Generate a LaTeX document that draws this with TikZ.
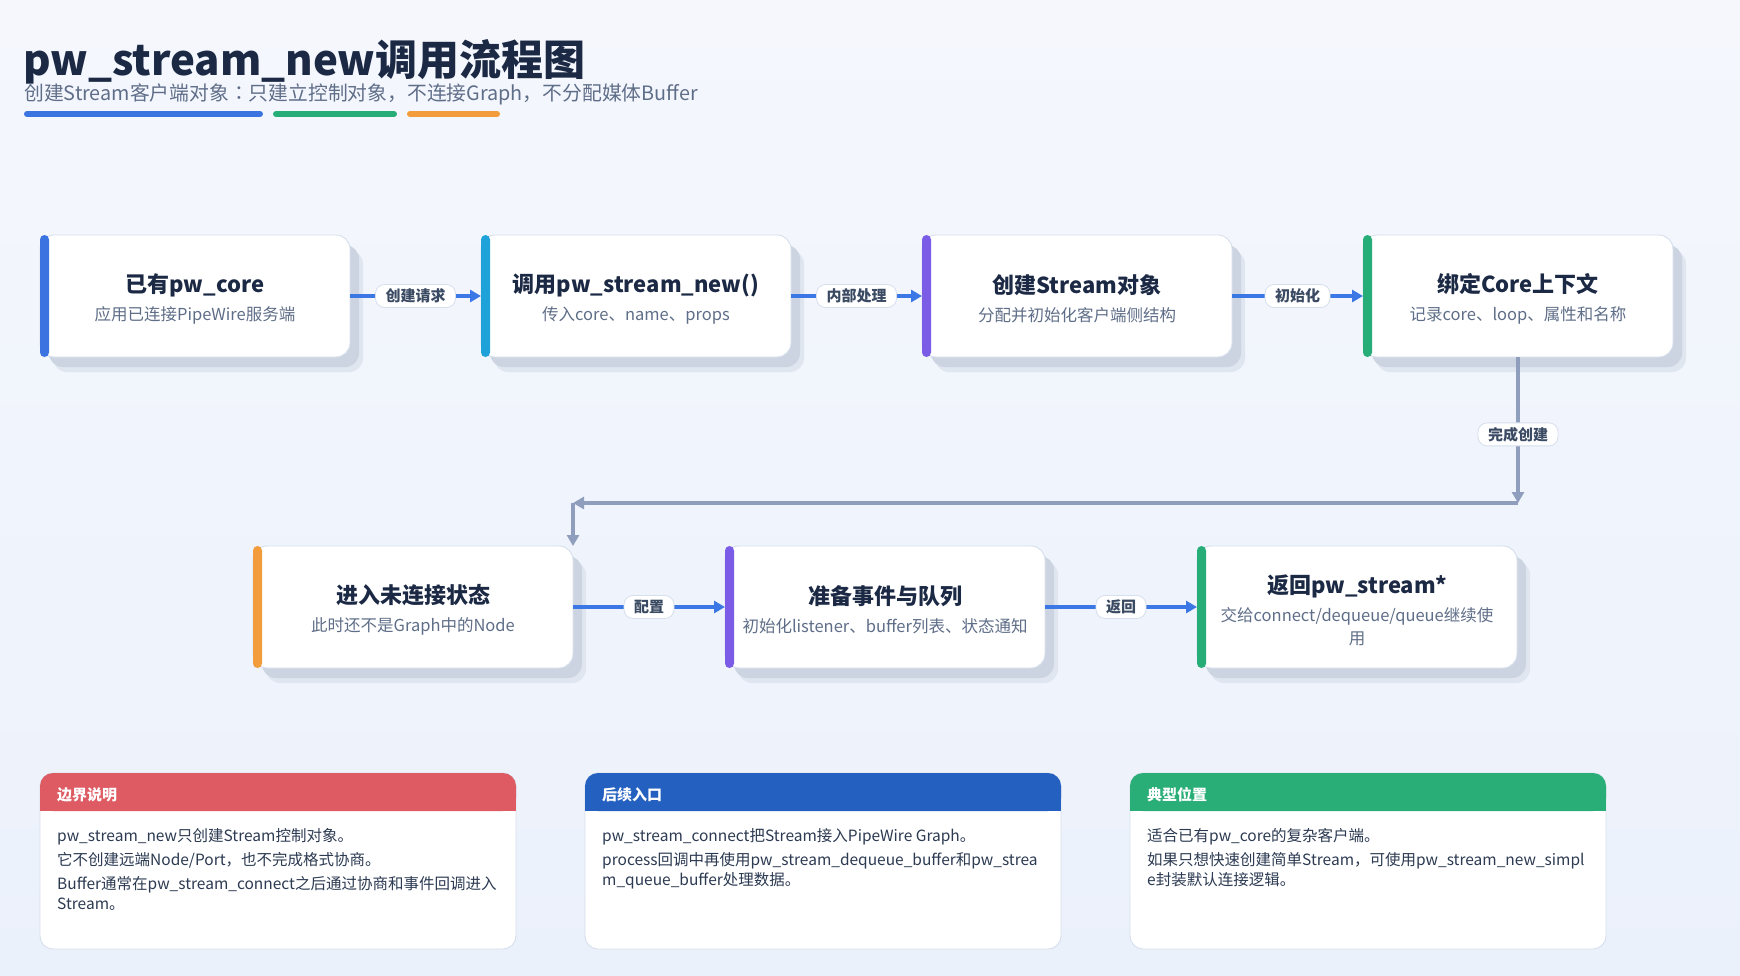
\documentclass[tikz,border=0pt]{standalone}
\usepackage{fontspec}
\setmainfont{Noto Sans CJK SC}
\newfontfamily\jpfont{Noto Sans CJK JP}
\usetikzlibrary{positioning}
\usetikzlibrary{arrows.meta}
\usetikzlibrary{shadows}

\definecolor{bgTop}{HTML}{F5F7FD}
\definecolor{bgBot}{HTML}{EBF1FB}
\definecolor{ink}{HTML}{1B2944}
\definecolor{muted}{HTML}{5F6E88}
\definecolor{tagInk}{HTML}{3B4A63}
\definecolor{bodyInk}{HTML}{2C3A52}
\definecolor{edge}{HTML}{D6DFEC}
\definecolor{shade}{HTML}{CCD4E1}
\definecolor{shadeSoft}{HTML}{E0E6F0}
\definecolor{flowBlue}{HTML}{3B78E6}
\definecolor{backGrey}{HTML}{8E9EBC}
\definecolor{accBlue}{HTML}{3B74E0}
\definecolor{accCyan}{HTML}{1FA2D9}
\definecolor{accPurple}{HTML}{7B5CE6}
\definecolor{accGreen}{HTML}{27AE78}
\definecolor{accOrange}{HTML}{F29C3B}
\definecolor{hdRed}{HTML}{DE5B63}
\definecolor{hdBlue}{HTML}{2460C0}
\definecolor{hdGreen}{HTML}{2AAE78}

\newcommand{\boxhead}[1]{{\fontsize{22}{26}\selectfont\bfseries\color{ink}\rule{0pt}{25pt}#1}}

\begin{document}
\begin{tikzpicture}[x=1pt, y=-1pt]
      \tikzstyle{flowbox} = [draw=edge, line width=0.9pt, fill=white, rounded corners=14pt, minimum width=310pt, minimum height=122pt, inner sep=0pt, outer sep=0pt, align=center, font=\fontsize{16.5}{23}\selectfont, text=muted, drop shadow={shadow xshift=13pt, shadow yshift=-15pt, fill=shadeSoft, opacity=1}, drop shadow={shadow xshift=9pt, shadow yshift=-10pt, fill=shade, opacity=1}]
      \tikzstyle{lowbox} = [flowbox, minimum width=320pt]
      \tikzstyle{tag} = [fill=white, draw=edge, line width=0.8pt, rounded corners=9pt, inner xsep=10pt, inner ysep=0pt, minimum height=23pt, font=\fontsize{15}{18}\selectfont\bfseries, text=tagInk]
      \tikzstyle{flow} = [draw=flowBlue, line width=3.5pt, -{Triangle[length=11pt, width=12pt]}]
      \tikzstyle{back} = [draw=backGrey, line width=3.5pt, -{Triangle[length=11pt, width=12pt]}]
      \tikzstyle{card} = [draw=edge, line width=0.9pt, fill=white, rounded corners=13pt, minimum width=476pt, minimum height=176pt, inner sep=0pt, outer sep=0pt]
      \tikzstyle{cardhead} = [anchor=west, inner sep=0pt, font=\fontsize{15}{18}\selectfont\bfseries, text=white]
      \tikzstyle{cardbody} = [anchor=north west, inner sep=0pt, align=left, font=\fontsize{15.5}{20}\selectfont, text=bodyInk]

      \useasboundingbox (0,0) rectangle (1740,975);
      \shade[top color=bgTop, bottom color=bgBot] (0,0) rectangle (1740,975);

      \node (title) [anchor=base west, inner sep=0pt, font=\fontsize{42}{48}\selectfont\bfseries, text=ink] at (23,75) {pw\_stream\_new调用流程图};
      \node (subtitle) [anchor=base west, inner sep=0pt, font=\fontsize{19.8}{24}\selectfont, text=muted] at (24,100) {创建Stream客户端对象{\jpfont ：}只建立控制对象，不连接Graph，不分配媒体Buffer};
      \draw[accBlue, line width=6pt, line cap=round] (27,114) -- (260,114);
      \draw[accGreen, line width=6pt, line cap=round] (276,114) -- (394,114);
      \draw[accOrange, line width=6pt, line cap=round] (410,114) -- (497,114);

      \node (core) [flowbox] at (195,296) {\boxhead{已有pw\_core}\\[5pt] 应用已连接PipeWire服务端};
      \node (callNew) [flowbox, right=131pt of core] {\boxhead{调用pw\_stream\_new()}\\[5pt] 传入core、name、props};
      \node (createObj) [flowbox, right=131pt of callNew] {\boxhead{创建Stream对象}\\[5pt] 分配并初始化客户端侧结构};
      \node (bindCore) [flowbox, right=131pt of createObj] {\boxhead{绑定Core上下文}\\[5pt] 记录core、loop、属性和名称};

      \node (unconnected) [lowbox] at (413,607) {\boxhead{进入未连接状态}\\[5pt] 此时还不是Graph中的Node};
      \node (prepQueue) [lowbox, right=152pt of unconnected] {\boxhead{准备事件与队列}\\[5pt] 初始化listener、buffer列表、状态通知};
      \node (returnStream) [lowbox, right=152pt of prepQueue] {\boxhead{返回pw\_stream*}\\[5pt] 交给connect/dequeue/queue继续使\\用};

      \fill[accBlue, rounded corners=4.5pt] (core.north west) rectangle ([xshift=9pt]core.south west);
      \fill[accCyan, rounded corners=4.5pt] (callNew.north west) rectangle ([xshift=9pt]callNew.south west);
      \fill[accPurple, rounded corners=4.5pt] (createObj.north west) rectangle ([xshift=9pt]createObj.south west);
      \fill[accGreen, rounded corners=4.5pt] (bindCore.north west) rectangle ([xshift=9pt]bindCore.south west);
      \fill[accOrange, rounded corners=4.5pt] (unconnected.north west) rectangle ([xshift=9pt]unconnected.south west);
      \fill[accPurple, rounded corners=4.5pt] (prepQueue.north west) rectangle ([xshift=9pt]prepQueue.south west);
      \fill[accGreen, rounded corners=4.5pt] (returnStream.north west) rectangle ([xshift=9pt]returnStream.south west);

      \draw[flow] (core) -- node[tag] (tagRequest) {创建请求} (callNew);
      \draw[flow] (callNew) -- node[tag] (tagInternal) {内部处理} (createObj);
      \draw[flow] (createObj) -- node[tag] (tagInit) {初始化} (bindCore);

      \coordinate (bendRight) at ([yshift=-146pt]bindCore.south);
      \coordinate (bendLeft) at (bendRight -| unconnected.east);
      \draw[back] (bindCore.south) -- node[tag, pos=0.53] (tagDone) {完成创建} (bendRight);
      \draw[back] (bendRight) -- (bendLeft);
      \draw[back] (bendLeft) -- (bendLeft |- unconnected.north);

      \draw[flow] (unconnected) -- node[tag] (tagConfig) {配置} (prepQueue);
      \draw[flow] (prepQueue) -- node[tag] (tagReturn) {返回} (returnStream);

      \node (boundary) [card] at (278,861) {};
      \node (followUp) [card, right=69pt of boundary] {};
      \node (typical) [card, right=69pt of followUp] {};

      \fill[hdRed, rounded corners=13pt] (boundary.north west) rectangle ([yshift=-38pt]boundary.north east);
      \fill[hdRed] ([yshift=-19pt]boundary.north west) rectangle ([yshift=-38pt]boundary.north east);
      \fill[hdBlue, rounded corners=13pt] (followUp.north west) rectangle ([yshift=-38pt]followUp.north east);
      \fill[hdBlue] ([yshift=-19pt]followUp.north west) rectangle ([yshift=-38pt]followUp.north east);
      \fill[hdGreen, rounded corners=13pt] (typical.north west) rectangle ([yshift=-38pt]typical.north east);
      \fill[hdGreen] ([yshift=-19pt]typical.north west) rectangle ([yshift=-38pt]typical.north east);

      \node (boundaryHead) [cardhead] at ([xshift=17pt, yshift=-22pt]boundary.north west) {边界说明};
      \node (followUpHead) [cardhead] at ([xshift=17pt, yshift=-22pt]followUp.north west) {后续入口};
      \node (typicalHead) [cardhead] at ([xshift=17pt, yshift=-22pt]typical.north west) {典型位置};

      \node (boundaryText) [cardbody] at ([xshift=17pt, yshift=-55pt]boundary.north west) {pw\_stream\_new只创建Stream控制对象。\\[4pt] 它不创建远端Node/Port，也不完成格式协商。\\[4pt] Buffer通常在pw\_stream\_connect之后通过协商和事件回调进入\\ Stream。};
      \node (followUpText) [cardbody] at ([xshift=17pt, yshift=-55pt]followUp.north west) {pw\_stream\_connect把Stream接入PipeWire Graph。\\[4pt] process回调中再使用pw\_stream\_dequeue\_buffer和pw\_strea\\ m\_queue\_buffer处理数据。};
      \node (typicalText) [cardbody] at ([xshift=17pt, yshift=-55pt]typical.north west) {适合已有pw\_core的复杂客户端。\\[4pt] 如果只想快速创建简单Stream，可使用pw\_stream\_new\_simpl\\ e封装默认连接逻辑。};
\end{tikzpicture}
\end{document}
